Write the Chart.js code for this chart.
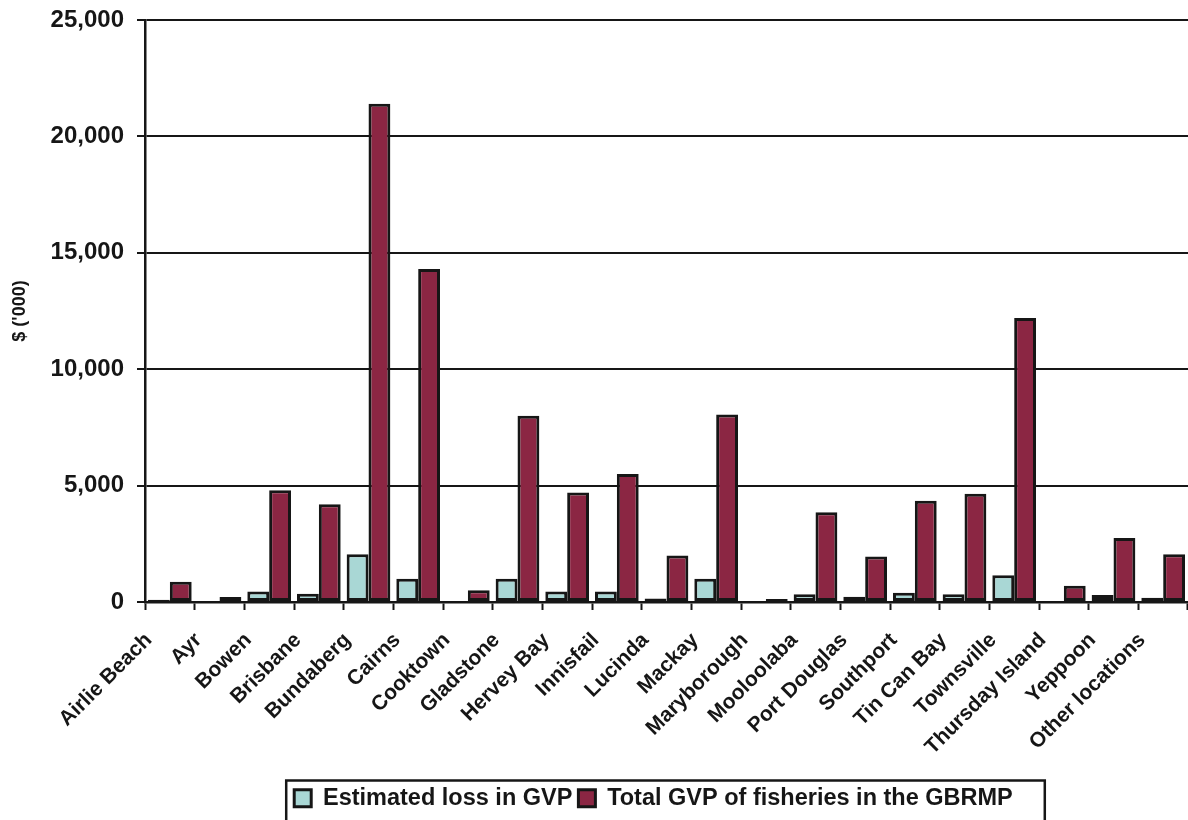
<!DOCTYPE html>
<html>
<head>
<meta charset="utf-8">
<script src="https://cdn.jsdelivr.net/npm/chart.js@4.4.1/dist/chart.umd.min.js"></script>
<style>
  html, body { margin: 0; padding: 0; background: #ffffff; }
  #wrap { width: 1188px; height: 820px; position: relative; }
  canvas { display: block; }
</style>
</head>
<body>
<div id="wrap"><canvas id="chart" width="1188" height="820"></canvas></div>
<script>
// Landing locations
const locations = [
  'Airlie Beach', 'Ayr', 'Bowen', 'Brisbane', 'Bundaberg', 'Cairns', 'Cooktown',
  'Gladstone', 'Hervey Bay', 'Innisfail', 'Lucinda', 'Mackay', 'Maryborough',
  'Mooloolaba', 'Port Douglas', 'Southport', 'Tin Can Bay', 'Townsville',
  'Thursday Island', 'Yeppoon', 'Other locations'
];

// $ ('000)
const estimatedLoss = [
  100, 20, 450, 350, 2050, 1000, 30,
  1000, 450, 450, 150, 1000, 20,
  330, 230, 400, 330, 1150,
  30, 300, 180
];
const totalGvp = [
  870, 220, 4800, 4200, 21400, 14300, 500,
  8000, 4700, 5500, 2000, 8050, 130,
  3850, 1950, 4350, 4650, 12200,
  700, 2750, 2050
];

const seriesNames = ['Estimated loss in GVP', 'Total GVP of fisheries in the GBRMP'];
const yTicks = [0, 5000, 10000, 15000, 20000, 25000];

const INK = '#161616';
const FONT = '"Liberation Sans", Arial, Helvetica, sans-serif';

// Legend sits roughly centred under the plot area, inside a ruled box
const legendFrame = {
  id: 'legendFrame',
  afterLayout(chart) {
    const lg = chart.legend;
    const area = chart.chartArea;
    const shift = (area.left + area.right) / 2 - 13 - (lg.left + lg.right) / 2;
    lg.left += shift;
    lg.right += shift;
  },
  afterDraw(chart) {
    const boxes = chart.legend.legendHitBoxes;
    if (!boxes || !boxes.length) return;
    let l = Infinity, r = -Infinity, t = Infinity;
    boxes.forEach(b => {
      l = Math.min(l, b.left);
      r = Math.max(r, b.left + b.width);
      t = Math.min(t, b.top);
    });
    const ctx = chart.ctx;
    ctx.save();
    ctx.strokeStyle = INK;
    ctx.lineWidth = 2.5;
    ctx.strokeRect(l - 8, t - 6, (r - l) + 40, chart.height - t + 20);
    ctx.restore();
  }
};

new Chart(document.getElementById('chart'), {
  type: 'bar',
  data: {
    labels: locations,
    datasets: [
      {
        label: seriesNames[0],
        data: estimatedLoss,
        backgroundColor: '#a9d7d5',
        borderColor: INK,
        borderWidth: 3,
        borderSkipped: false
      },
      {
        label: seriesNames[1],
        data: totalGvp,
        backgroundColor: '#8b2643',
        borderColor: INK,
        borderWidth: 3,
        borderSkipped: false
      }
    ]
  },
  options: {
    responsive: false,
    animation: false,
    layout: { padding: { top: 20, right: 0, bottom: 0, left: 0 } },
    datasets: {
      bar: { categoryPercentage: 0.88, barPercentage: 1.0 }
    },
    plugins: {
      title: { display: false },
      tooltip: { enabled: false },
      legend: {
        position: 'bottom',
        labels: {
          color: INK,
          font: { family: FONT, size: 23.5, weight: 'bold' },
          boxWidth: 17,
          boxHeight: 17,
          padding: 6
        }
      }
    },
    scales: {
      x: {
        grid: {
          display: true,
          drawOnChartArea: false,
          drawTicks: true,
          tickLength: 8,
          tickWidth: 2,
          tickColor: INK,
          offset: true
        },
        border: { display: true, color: INK, width: 2.5 },
        ticks: {
          color: INK,
          font: { family: FONT, size: 21, weight: 'bold' },
          minRotation: 45,
          maxRotation: 45,
          autoSkip: false,
          padding: 18,
          labelOffset: -21
        },
        afterFit(scale) {
          const lgH = scale.chart.legend ? scale.chart.legend.height : 0;
          scale.height = scale.chart.height - 602 - lgH;
          scale.paddingLeft = 0;
          scale.paddingRight = 0;
        }
      },
      y: {
        min: 0,
        max: 25000,
        afterBuildTicks(scale) {
          scale.ticks = yTicks.map(v => ({ value: v }));
        },
        grid: {
          color: INK,
          lineWidth: 2,
          drawTicks: true,
          tickLength: 8,
          tickColor: INK
        },
        border: { display: true, color: INK, width: 2.5 },
        ticks: {
          color: INK,
          font: { family: FONT, size: 24, weight: 'bold' },
          padding: 13,
          callback: v => v.toLocaleString('en-US')
        },
        title: {
          display: true,
          text: "$ ('000)",
          color: INK,
          font: { family: FONT, size: 18, weight: 'bold' },
          padding: { top: 9, bottom: 0 }
        },
        afterFit(scale) {
          scale.width = 145;
          scale.paddingTop = 0;
          scale.paddingBottom = 0;
        }
      }
    }
  },
  plugins: [legendFrame]
});
</script>
</body>
</html>
